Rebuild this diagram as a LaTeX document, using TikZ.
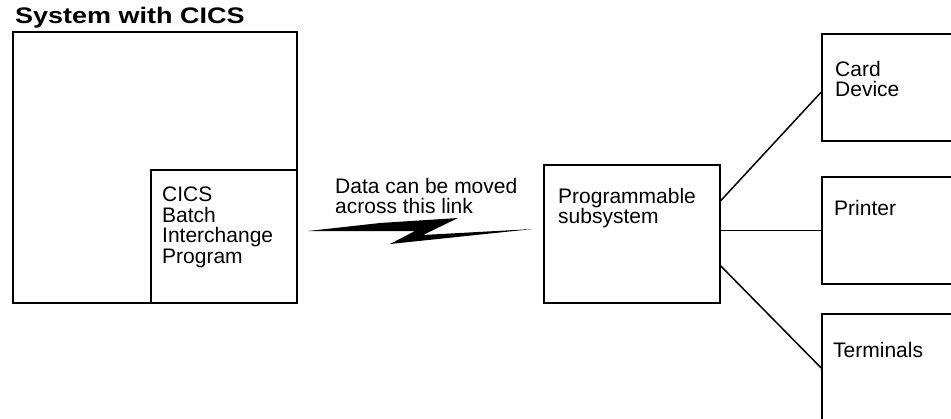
\documentclass[tikz,border=0pt]{standalone}
\usepackage{fontspec}
\setmainfont{Liberation Sans}
\newfontfamily\titlefont{Liberation Sans Bold}[FakeStretch=1.2]
\usetikzlibrary{positioning}

\begin{document}
\begin{tikzpicture}[x=1pt, y=-1pt,
  box/.style={draw, line width=1.6pt, inner sep=0pt, anchor=north west},
  lbl/.style={inner sep=0pt, align=left, font=\fontsize{21}{20.5}\selectfont},
  link/.style={line width=1.5pt}]

  % Bounding box of the scheme
  \clip (0,0) rectangle (951,418);

  %%%%%%%%%%%%%%%%%%%%%%%%%%%%%%%%% Host side %%%%%%%%%%%%%%%%%%%%%%%%%%%%%%%%%%%%
  \draw (12,31) node[box, minimum width=284pt, minimum height=271pt] (system) {};
  \draw (150,169) node[box, minimum width=146pt, minimum height=133pt] (bip) {};

  \draw (system.north west) node[inner sep=0pt, anchor=south west, above right=3pt and 3pt,
    font=\titlefont\fontsize{22.5}{24}\selectfont] (title) {System with CICS};
  \draw (bip.north west) node[lbl, below right=18pt and 12pt] (biptext) {CICS\\Batch\\Interchange\\Program};

  %%%%%%%%%%%%%%%%%%%%%%%%%%%%%%%%% The link %%%%%%%%%%%%%%%%%%%%%%%%%%%%%%%%%%%%
  \draw (335,178) node[lbl, anchor=north west] (linktext) {Data can be moved\\across this link};
  \fill (308,231) -- (380,223) -- (458,218) -- (423,235) -- (533,229) -- (390,244) -- (415,231) -- cycle;

  %%%%%%%%%%%%%%%%%%%%%%%%%%%%%%%%% Subsystem and devices %%%%%%%%%%%%%%%%%%%%%%%%%%%%%%%%%%%%
  \draw (543,164) node[box, minimum width=176pt, minimum height=138pt] (prog) {};
  \draw (821,33) node[box, minimum width=140pt, minimum height=107pt] (card) {};
  \draw (821,176) node[box, minimum width=140pt, minimum height=107pt] (printer) {};
  \draw (821,313) node[box, minimum width=140pt, minimum height=108pt] (terminals) {};

  \draw (prog.north west) node[lbl, below right=24pt and 15pt] (progtext) {Programmable\\subsystem};
  \draw (card.north west) node[lbl, below right=28pt and 14pt] (cardtext) {Card\\Device};
  \draw (printer.north west) node[lbl, below right=24pt and 13pt] (printertext) {Printer};
  \draw (terminals.north west) node[lbl, below right=29pt and 12pt] (terminalstext) {Terminals};

  % Lines to the devices
  \coordinate (progA) at ([yshift=33pt]prog.east);
  \coordinate (progB) at ([yshift=-32pt]prog.east);
  \coordinate (cardA) at ([yshift=-5pt]card.west);
  \draw[link] (progA) -- (cardA);
  \draw[link] (prog.east |- printer.west) -- (printer.west);
  \draw[link] (progB) -- (terminals.west);

\end{tikzpicture}
\end{document}
